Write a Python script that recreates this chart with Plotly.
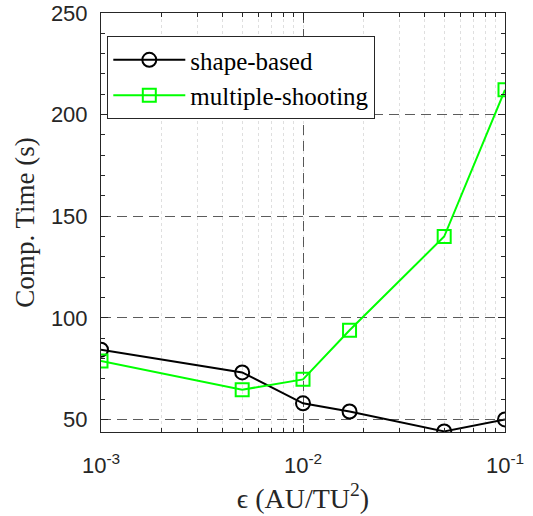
import plotly.graph_objects as go

eps = [0.001, 0.005, 0.01, 0.017, 0.05, 0.1]
shape_based = [84.3, 73.1, 57.9, 53.9, 44.1, 50.0]
multiple_shooting = [78.7, 64.6, 69.7, 93.9, 140.0, 212.2]
xtick_vals = [0.001, 0.01, 0.1]
xtick_text = ["10<sup>-3</sup>", "10<sup>-2</sup>", "10<sup>-1</sup>"]
ytick_vals = [50, 100, 150, 200, 250]

AX = "#262626"
SERIF = "Liberation Serif"

fig = go.Figure()
fig.add_trace(go.Scatter(
    x=eps, y=shape_based, name="shape-based", mode="lines+markers",
    line=dict(color="black", width=2),
    marker=dict(symbol="circle-open", size=14, color="black", line=dict(width=2)),
))
fig.add_trace(go.Scatter(
    x=eps, y=multiple_shooting, name="multiple-shooting", mode="lines+markers",
    line=dict(color="#00ff00", width=2),
    marker=dict(symbol="square-open", size=13, color="#00ff00", line=dict(width=2)),
))

fig.update_layout(
    width=533, height=516,
    margin=dict(l=101, r=28, t=13, b=84),
    paper_bgcolor="white", plot_bgcolor="white",
    showlegend=True,
    legend=dict(
        x=0.0156, y=0.945, xanchor="left", yanchor="top",
        bgcolor="white", bordercolor=AX, borderwidth=1,
        font=dict(family=SERIF, size=25, color="black"),
        itemwidth=72,
        tracegroupgap=0,
    ),
    xaxis=dict(
        type="log", range=[-3, -1], automargin=False,
        tickvals=xtick_vals, ticktext=xtick_text,
        tickfont=dict(family="Liberation Sans", size=22, color=AX),
        ticks="inside", ticklen=7, tickcolor=AX, ticklabelstandoff=14,
        showline=True, linecolor=AX, linewidth=1, mirror="ticks",
        showgrid=True, gridcolor="rgba(38,38,38,0.75)", griddash="10px,6px", gridwidth=1,
        minor=dict(dtick="D1", ticks="inside", ticklen=4, tickcolor=AX,
                   showgrid=True, gridcolor="rgba(38,38,38,0.15)", griddash="dot", gridwidth=1),
        zeroline=False,
        title=dict(text="ϵ (AU/TU<sup>2</sup>)", font=dict(family=SERIF, size=28, color=AX), standoff=10),
    ),
    yaxis=dict(
        range=[43.8, 250], automargin=False,
        tickvals=ytick_vals,
        tickfont=dict(family="Liberation Sans", size=22, color=AX),
        ticks="inside", ticklen=7, tickcolor=AX, ticklabelstandoff=8,
        showline=True, linecolor=AX, linewidth=1, mirror="ticks",
        showgrid=True, gridcolor="rgba(38,38,38,0.75)", griddash="10px,6px", gridwidth=1,
        minor=dict(tick0=0, dtick=10, ticks="inside", ticklen=4, tickcolor=AX, showgrid=False),
        zeroline=False,
        title=dict(text="Comp. Time (s)", font=dict(family=SERIF, size=27, color=AX), standoff=8),
    ),
)

fig.write_html("out.html")
